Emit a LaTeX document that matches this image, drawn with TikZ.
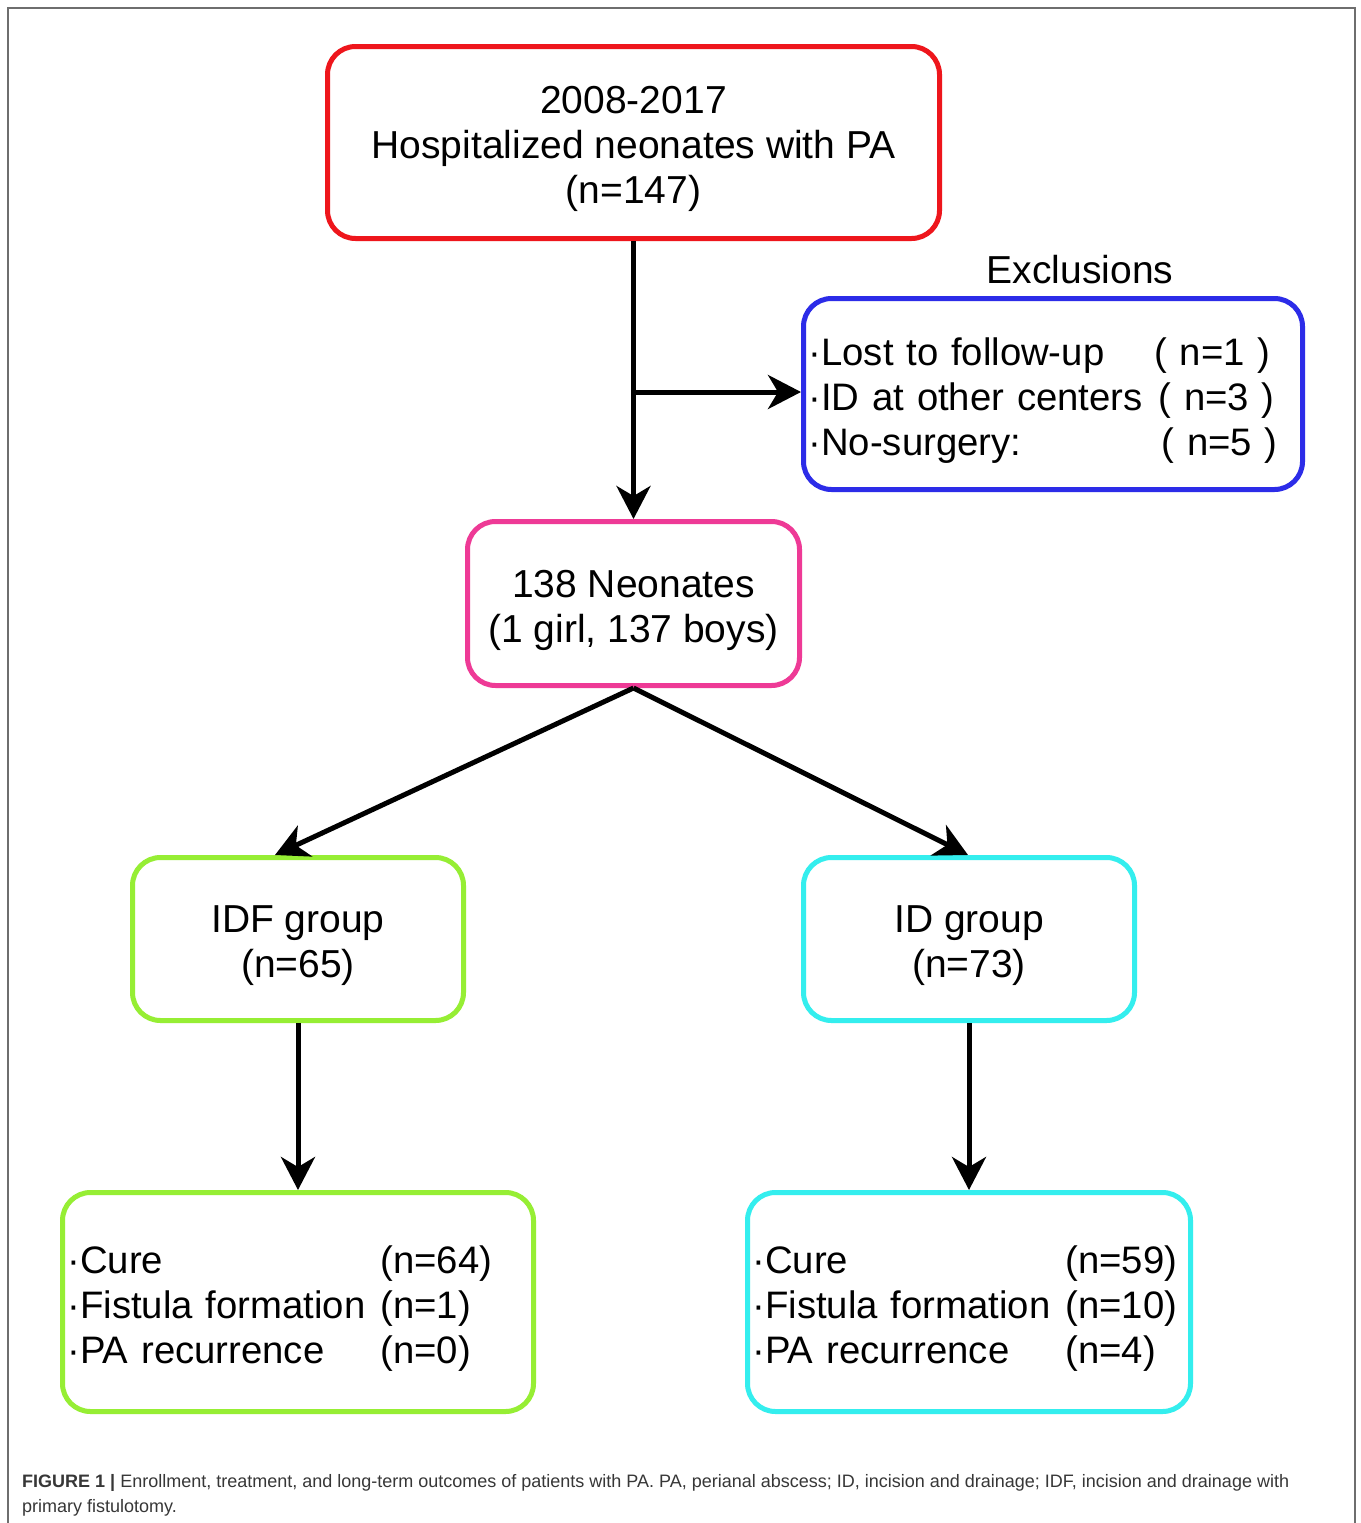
\documentclass[tikz,border=0pt]{standalone}
\usepackage{fontspec}
\setmainfont{Liberation Sans}
\usetikzlibrary{arrows.meta}
\definecolor{cred}{RGB}{238,22,28}
\definecolor{cblue}{RGB}{44,44,232}
\definecolor{cpink}{RGB}{238,58,150}
\definecolor{cgreen}{RGB}{150,238,52}
\definecolor{ccyan}{RGB}{52,238,238}
\definecolor{framegray}{RGB}{110,110,110}
\definecolor{capgray}{RGB}{55,55,55}
\newcommand{\tstrut}{\rule{0pt}{41pt}}
\begin{document}
\begin{tikzpicture}[x=1pt,y=-1pt,
  box/.style={draw, line width=5pt, rounded corners=28pt, align=center, inner sep=0pt,
    font=\fontsize{39}{45}\selectfont},
  listbox/.style={box, align=left, inner xsep=5pt, font=\fontsize{38.3}{45}\selectfont},
  lbl/.style={inner sep=0pt, font=\fontsize{39}{45}\selectfont},
  arr/.style={line width=5pt, -{Stealth[length=33pt,width=34pt,inset=10pt]}},
  caption/.style={inner sep=0pt, text=capgray, font=\fontsize{18}{22}\selectfont},
]
\useasboundingbox (0,0) rectangle (1360,1523);
\fill[white] (0,0) rectangle (1360,1523);
\draw[framegray, line width=2pt] (8,1523) -- (8,8) -- (1355,8) -- (1355,1523);

\node[box, draw=cred, minimum width=612pt, minimum height=192pt] (top) at (633.5,142.5)
  {\tstrut 2008-2017\\Hospitalized neonates with PA\\(n=147)};

\node[lbl] (exlbl) at (1080,270) {Exclusions};
\node[listbox, draw=cblue, minimum width=499pt, minimum height=191pt, text width=489pt] (excl) at (1053,394)
  {\tstrut\makebox[346pt][l]{·Lost to follow-up}( n=1 )\\
   \makebox[350pt][l]{·ID at other centers}( n=3 )\\
   \makebox[353pt][l]{·No-surgery:}( n=5 )};

\node[box, draw=cpink, minimum width=332pt, minimum height=164pt] (neo) at (633.5,603.5)
  {\tstrut 138 Neonates\\(1 girl, 137 boys)};

\node[box, draw=cgreen, minimum width=331pt, minimum height=163pt] (idf) at (298,939)
  {\tstrut IDF group\\(n=65)};
\node[box, draw=ccyan, minimum width=331pt, minimum height=163pt] (id) at (969,939)
  {\tstrut ID group\\(n=73)};

\node[listbox, draw=cgreen, minimum width=471pt, minimum height=219pt, text width=461pt] (idfout) at (298,1302)
  {\tstrut\makebox[313pt][l]{·Cure}(n=64)\\
   \makebox[313pt][l]{·Fistula formation }(n=1)\\
   \makebox[313pt][l]{·PA recurrence}(n=0)};
\node[listbox, draw=ccyan, minimum width=443pt, minimum height=219pt, text width=433pt] (idout) at (969,1302)
  {\tstrut\makebox[313pt][l]{·Cure}(n=59)\\
   \makebox[313pt][l]{·Fistula formation }(n=10)\\
   \makebox[313pt][l]{·PA recurrence}(n=4)};

\coordinate (branch) at (633.5,392);
\draw[line width=5pt] (top.south) -- (branch);
\draw[arr] (branch) -- (neo.north);
\draw[arr] (branch) -- (branch -| excl.west);
\draw[arr] (neo.south) -- ([xshift=-23pt]idf.north);
\draw[arr] (neo.south) -- ([xshift=-1pt]id.north);
\draw[arr] (idf.south) -- (idfout.north);
\draw[arr] (id.south) -- (idout.north);

\node[caption, anchor=base west] (cap1) at (22,1487)
  {\textbf{FIGURE 1 |} Enrollment, treatment, and long-term outcomes of patients with PA. PA, perianal abscess; ID, incision and drainage; IDF, incision and drainage with};
\node[caption, anchor=base west] (cap2) at (22,1512) {primary fistulotomy.};
\end{tikzpicture}
\end{document}
